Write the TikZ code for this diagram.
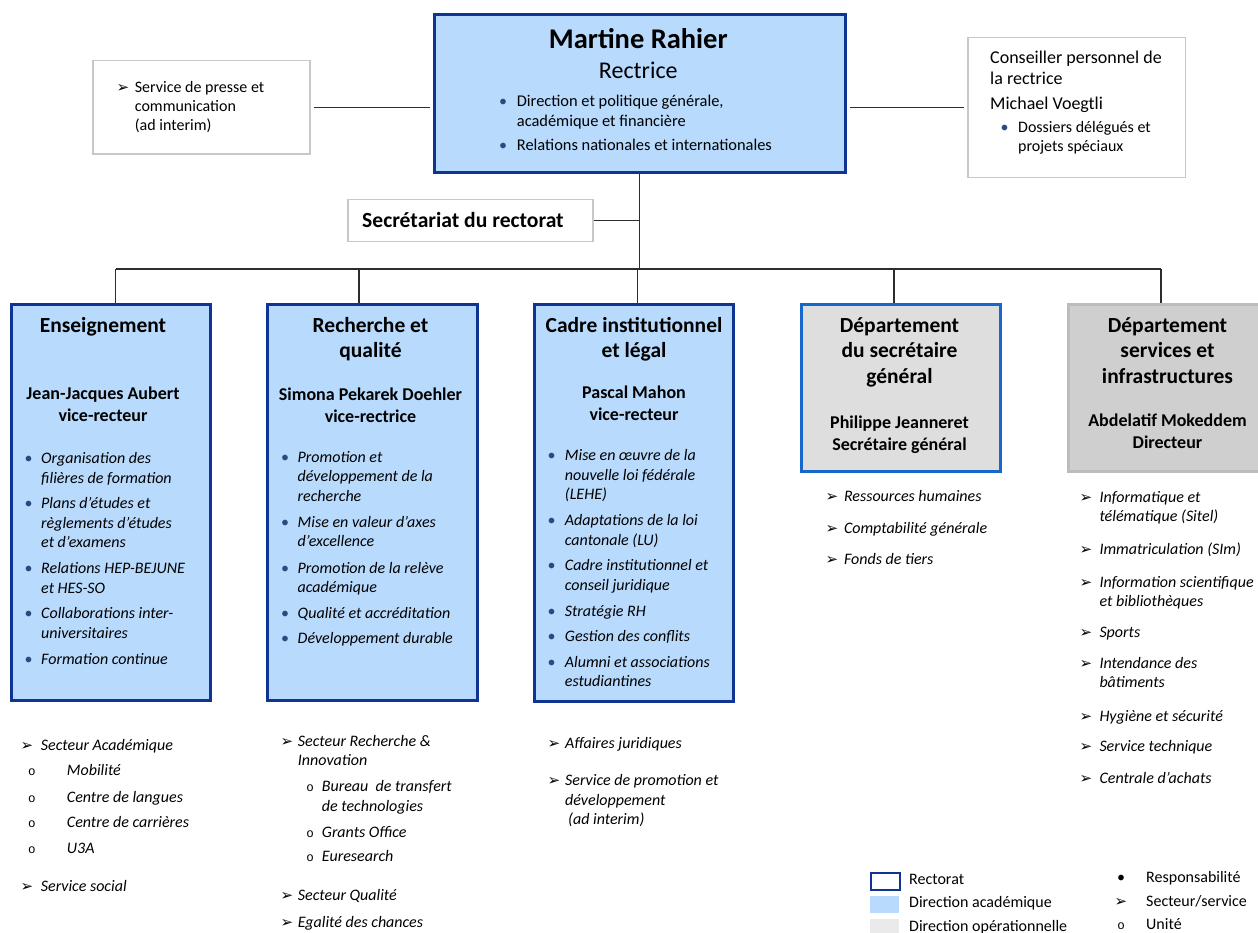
\documentclass[tikz,border=0pt]{standalone}
\usepackage{fontspec}
\setmainfont{Carlito}
\newfontfamily\djv{DejaVu Sans}
\newfontfamily\lmono{Liberation Mono}
\definecolor{rblue}{RGB}{16,52,148}
\definecolor{lblue}{RGB}{184,218,253}
\definecolor{mblue}{RGB}{24,104,204}
\definecolor{gA}{RGB}{222,222,222}
\definecolor{gB}{RGB}{207,207,207}
\definecolor{gBb}{RGB}{188,188,188}
\definecolor{gC}{RGB}{234,234,234}
\definecolor{sbord}{RGB}{200,200,200}
\definecolor{bulc}{RGB}{44,74,128}
\definecolor{linec}{RGB}{45,45,45}
\newcommand\Bul{\textcolor{bulc}{\fontsize{16}{16}\selectfont •}}
\newcommand\Arw{{\djv\fontsize{15}{15}\selectfont ➢}}
\newcommand\Uni{{\lmono\fontsize{12.5}{12.5}\selectfont o}}
\newcommand\bx[6][]{\node[#1, anchor=north west, minimum width={#5-#3}, minimum height={#6-#4}, inner sep=0] (#2) at (#3,#4) {};}
\newcommand\itm[7][itx]{%
  \node[symb] (#2s) at (#3,{#5+5.5}) {#6};
  \node[#1] (#2) at (#4,{#5+5.5}) {\parbox[t]{330pt}{\raggedright #7}};}
\tikzset{
  rectobox/.style={draw=rblue, fill=lblue, line width=3pt},
  dsgbox/.style={draw=mblue, fill=gA, line width=3pt},
  dsibox/.style={draw=gBb, fill=gB, line width=3pt},
  smallbox/.style={draw=sbord, fill=white, line width=1.5pt},
  conn/.style={draw=linec, line width=1.2pt},
  itx/.style={inner sep=0, anchor=base west, font=\fontsize{16}{19.5}\selectfont\itshape},
  utx/.style={inner sep=0, anchor=base west, font=\fontsize{16}{19}\selectfont},
  topx/.style={inner sep=0, anchor=base west, font=\fontsize{16.4}{20}\selectfont},
  ttl/.style={inner sep=0, anchor=base, font=\fontsize{21.5}{25.8}\selectfont\bfseries},
  nme/.style={inner sep=0, anchor=base, font=\fontsize{18}{22}\selectfont\bfseries},
  symb/.style={inner sep=0, anchor=base},
  leg/.style={inner sep=0, anchor=base west, font=\fontsize{16}{19}\selectfont},
}
\begin{document}
\begin{tikzpicture}[x=1pt,y=-1pt]
\useasboundingbox (0,0) rectangle (1258,933);
% boxes
\bx[rectobox]{rect}{432.7}{13.3}{844}{170.7}
\bx[smallbox]{presse}{92}{60}{309.4}{153.3}
\bx[smallbox]{cons}{967}{37}{1184.7}{177}
\bx[smallbox]{sec}{347}{199}{592}{241}
\bx[rectobox]{ens}{10}{303}{209}{699}
\bx[rectobox]{rech}{265.7}{303}{476}{699}
\bx[rectobox]{cad}{532.7}{303}{731.8}{700}
\bx[dsgbox]{dsg}{800}{303}{999}{470}
\bx[dsibox]{dsi}{1067}{303}{1268}{470}
% connectors
\coordinate (hb) at (0,269);
\coordinate (dEns) at (115.5,269);
\coordinate (dRech) at (359,269);
\coordinate (dCad) at (637.6,269);
\coordinate (dDsg) at (894,269);
\coordinate (dDsi) at (1161,269);
\draw[conn] (dEns) -- (dDsi);
\draw[conn] (rect.south) -- (rect.south |- hb);
\draw[conn] (dEns) -- (dEns |- ens.north);
\draw[conn] (dRech) -- (dRech |- rech.north);
\draw[conn] (dCad) -- (dCad |- cad.north);
\draw[conn] (dDsg) -- (dDsg |- dsg.north);
\draw[conn] (dDsi) -- (dDsi |- dsi.north);
\draw[conn] (sec.east) -- (sec.east -| rect.south);
\draw[conn, shorten <=3pt, shorten >=3pt] (presse.east) -- (presse.east -| rect.west);
\draw[conn, shorten <=3pt, shorten >=3pt] (rect.east |- cons.west) -- (cons.west);
% top box
\node[inner sep=0, anchor=base, font=\fontsize{28.5}{30}\selectfont\bfseries] (rname) at (638.3,48.3) {Martine Rahier};
\node[inner sep=0, anchor=base, font=\fontsize{24}{26}\selectfont] (rrole) at (638.3,79) {Rectrice};
\itm[topx]{r1}{503}{516.7}{100.7}{\Bul}{Direction et politique générale,\\académique et financière}
\itm[topx]{r2}{503}{516.7}{145}{\Bul}{Relations nationales et internationales}
% left box
\itm[utx]{p1}{123}{134.7}{87}{\Arw}{Service de presse et\\communication\\(ad interim)}
% right box
\node[inner sep=0, anchor=base west, font=\fontsize{18}{21}\selectfont] (c1) at (990,64) {\parbox[t]{200pt}{\raggedright Conseiller personnel de\\la rectrice}};
\node[inner sep=0, anchor=base west, font=\fontsize{18}{21}\selectfont] (c2) at (990,110) {Michael Voegtli};
\itm[utx]{c3}{1004.6}{1018}{127}{\Bul}{Dossiers délégués et\\projets spéciaux}
% secretariat
\node[inner sep=0, anchor=base west, font=\fontsize{21.6}{24}\selectfont\bfseries] (sect) at (362,227.3) {Secrétariat du rectorat};
% Enseignement
\node[ttl] (ensT) at (103,332) {\parbox[t]{200pt}{\centering Enseignement}};
\node[nme] (ensN) at (103,399) {\parbox[t]{200pt}{\centering Jean-Jacques Aubert\\vice-recteur}};
\itm{e1}{28.7}{41}{458}{\Bul}{Organisation des\\filières de formation}
\itm{e2}{28.7}{41}{503}{\Bul}{Plans d’études et\\règlements d’études\\et d’examens}
\itm{e3}{28.7}{41}{568}{\Bul}{Relations HEP-BEJUNE\\et HES-SO}
\itm{e4}{28.7}{41}{613}{\Bul}{Collaborations inter-\\universitaires}
\itm{e5}{28.7}{41}{659}{\Bul}{Formation continue}
% Recherche
\node[ttl] (rechT) at (370.5,332) {\parbox[t]{200pt}{\centering Recherche et\\qualité}};
\node[nme] (rechN) at (370.5,400) {\parbox[t]{200pt}{\centering Simona Pekarek Doehler\\vice-rectrice}};
\itm{q1}{285}{297.5}{456.7}{\Bul}{Promotion et\\développement de la\\recherche}
\itm{q2}{285}{297.5}{521.7}{\Bul}{Mise en valeur d’axes\\d’excellence}
\itm{q3}{285}{297.5}{567.7}{\Bul}{Promotion de la relève\\académique}
\itm{q4}{285}{297.5}{612.7}{\Bul}{Qualité et accréditation}
\itm{q5}{285}{297.5}{638.3}{\Bul}{Développement durable}
% Cadre
\node[ttl] (cadT) at (634,332) {\parbox[t]{200pt}{\centering Cadre institutionnel\\et légal}};
\node[nme] (cadN) at (634,398) {\parbox[t]{200pt}{\centering Pascal Mahon\\vice-recteur}};
\itm{k1}{551.5}{564.7}{455}{\Bul}{Mise en œuvre de la\\nouvelle loi fédérale\\(LEHE)}
\itm{k2}{551.5}{564.7}{520}{\Bul}{Adaptations de la loi\\cantonale (LU)}
\itm{k3}{551.5}{564.7}{565}{\Bul}{Cadre institutionnel et\\conseil juridique}
\itm{k4}{551.5}{564.7}{610.7}{\Bul}{Stratégie RH}
\itm{k5}{551.5}{564.7}{636}{\Bul}{Gestion des conflits}
\itm{k6}{551.5}{564.7}{661.7}{\Bul}{Alumni et associations\\estudiantines}
% Departement secretaire general
\node[ttl] (dsgT) at (899.5,332) {\parbox[t]{200pt}{\centering Département\\du secrétaire\\général}};
\node[nme] (dsgN) at (899.5,428.3) {\parbox[t]{200pt}{\centering Philippe Jeanneret\\Secrétaire général}};
\itm{g1}{832}{843.8}{496}{\Arw}{Ressources humaines}
\itm{g2}{832}{843.8}{527.7}{\Arw}{Comptabilité générale}
\itm{g3}{832}{843.8}{559.3}{\Arw}{Fonds de tiers}
% Departement services et infrastructures
\node[ttl] (dsiT) at (1167.5,332) {\parbox[t]{200pt}{\centering Département\\services et\\infrastructures}};
\node[nme] (dsiN) at (1167.5,426.7) {\parbox[t]{200pt}{\centering Abdelatif Mokeddem\\Directeur}};
\itm{s1}{1086}{1099.3}{496.7}{\Arw}{Informatique et\\télématique (Sitel)}
\itm{s2}{1086}{1099.3}{549}{\Arw}{Immatriculation (SIm)}
\itm{s3}{1086}{1099.3}{581.7}{\Arw}{Information scientifique\\et bibliothèques}
\itm{s4}{1086}{1099.3}{631.7}{\Arw}{Sports}
\itm{s5}{1086}{1099.3}{662.7}{\Arw}{Intendance des\\bâtiments}
\itm{s6}{1086}{1099.3}{716}{\Arw}{Hygiène et sécurité}
\itm{s7}{1086}{1099.3}{746}{\Arw}{Service technique}
\itm{s8}{1086}{1099.3}{778.3}{\Arw}{Centrale d’achats}
% lists below Enseignement
\itm{a1}{27}{40.7}{745}{\Arw}{Secteur Académique}
\itm{a2}{32}{66.7}{770}{\Uni}{Mobilité}
\itm{a3}{32}{66.7}{796.7}{\Uni}{Centre de langues}
\itm{a4}{32}{66.7}{821.7}{\Uni}{Centre de carrières}
\itm{a5}{32}{66.7}{847.7}{\Uni}{U3A}
\itm{a6}{27}{40.7}{885.7}{\Arw}{Service social}
% lists below Recherche
\itm{b1}{287}{297.7}{740.7}{\Arw}{Secteur Recherche \&\\Innovation}
\itm{b2}{310}{321.7}{786}{\Uni}{Bureau~ de transfert\\de technologies}
\itm{b3}{310}{321.7}{831.7}{\Uni}{Grants Office}
\itm{b4}{310}{321.7}{856}{\Uni}{Euresearch}
\itm{b5}{287}{297.7}{895}{\Arw}{Secteur Qualité}
\itm{b6}{287}{297.7}{921.7}{\Arw}{Egalité des chances}
% lists below Cadre
\itm{j1}{554}{565}{742.7}{\Arw}{Affaires juridiques}
\itm{j2}{554}{565}{780}{\Arw}{Service de promotion et\\développement\\\hspace*{3pt}(ad interim)}
% legend
\node[draw=rblue, line width=2pt, fill=white, anchor=north west, minimum width=29, minimum height=17, inner sep=0] (lg1) at (870,872) {};
\node[fill=lblue, anchor=north west, minimum width=29, minimum height=17, inner sep=0] (lg2) at (870,896) {};
\node[fill=gC, anchor=north west, minimum width=29, minimum height=17, inner sep=0] (lg3) at (870,919) {};
\node[leg] (lt1) at (909,884.5) {Rectorat};
\node[leg] (lt2) at (909,907.5) {Direction académique};
\node[leg] (lt3) at (909,931) {Direction opérationnelle};
\node[symb, font=\fontsize{16}{16}\selectfont] (ls1) at (1121,882) {•};
\node[symb] (ls2) at (1121,906) {\Arw};
\node[symb] (ls3) at (1121,929) {\Uni};
\node[leg] (lu1) at (1146,882) {Responsabilité};
\node[leg] (lu2) at (1146,906) {Secteur/service};
\node[leg] (lu3) at (1146,929) {Unité};
\end{tikzpicture}
\end{document}
